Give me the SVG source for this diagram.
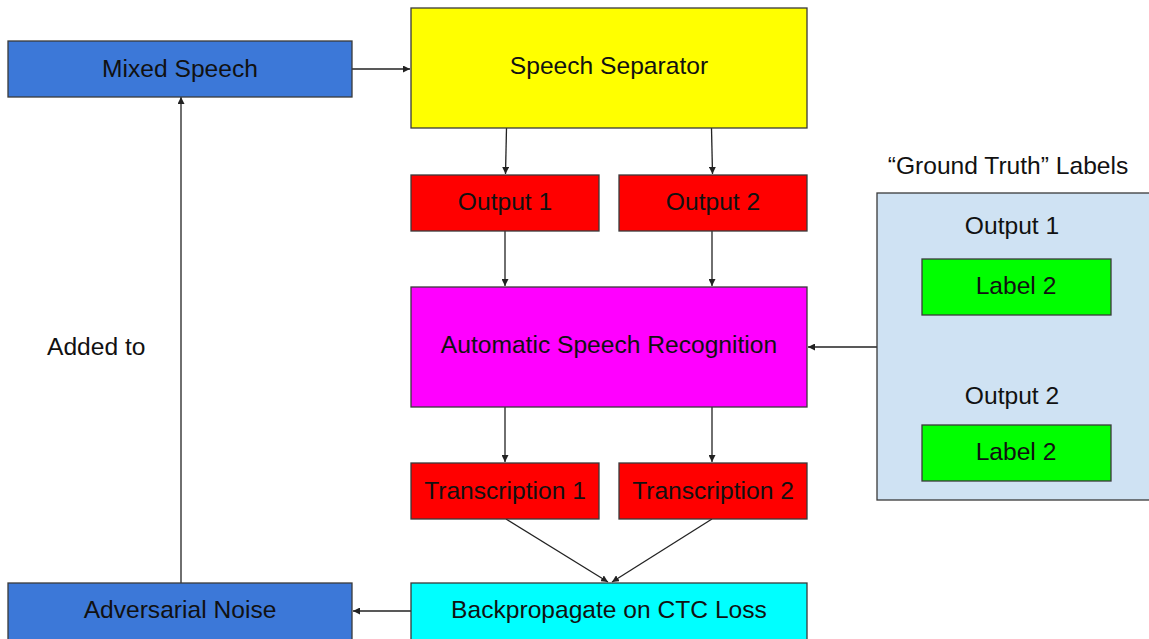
<svg xmlns="http://www.w3.org/2000/svg" width="1149" height="639" viewBox="0 0 1149 639">
  <style>
    .box { stroke: #3a3a3a; stroke-width: 1.3; }
    .lbl { font-family: "Liberation Sans", Arial, sans-serif; font-size: 24.6px; fill: #111; text-anchor: middle; dominant-baseline: central; }
    .plain { font-family: "Liberation Sans", Arial, sans-serif; font-size: 24.6px; fill: #111; dominant-baseline: central; }
    .conn { stroke: #222; stroke-width: 1.3; fill: none; marker-end: url(#arrow); }
  </style>
  <defs>
    <marker id="arrow" viewBox="0 0 10 10" refX="10" refY="5" markerWidth="7" markerHeight="7" markerUnits="userSpaceOnUse" orient="auto">
      <path d="M0,0 L10,5 L0,10 z" fill="#222"/>
    </marker>
  </defs>
  <rect width="1149" height="639" fill="#ffffff"/>

  <g id="connectors">
    <line class="conn" x1="352" y1="69" x2="410" y2="69"/>
    <line class="conn" x1="506.5" y1="128" x2="505.5" y2="174"/>
    <line class="conn" x1="711.5" y1="128" x2="712.5" y2="174"/>
    <line class="conn" x1="505" y1="231" x2="505" y2="286"/>
    <line class="conn" x1="712" y1="231" x2="712" y2="286"/>
    <line class="conn" x1="505" y1="407" x2="505" y2="462"/>
    <line class="conn" x1="712" y1="407" x2="712" y2="462"/>
    <line class="conn" x1="506" y1="519" x2="608" y2="582"/>
    <line class="conn" x1="712" y1="519" x2="612" y2="582"/>
    <line class="conn" x1="411" y1="611" x2="353" y2="611"/>
    <line class="conn" x1="181" y1="583" x2="181" y2="97"/>
    <line class="conn" x1="877" y1="347" x2="808" y2="347"/>
  </g>

  <g id="mixed-speech">
    <rect class="box" x="8" y="41" width="344" height="56" fill="#3c78d8"/>
    <text class="lbl" x="180" y="68">Mixed Speech</text>
  </g>
  <g id="speech-separator">
    <rect class="box" x="411" y="8" width="396" height="120" fill="#ffff00"/>
    <text class="lbl" x="609" y="65">Speech Separator</text>
  </g>
  <g id="output-1">
    <rect class="box" x="411" y="175" width="188" height="56" fill="#ff0000"/>
    <text class="lbl" x="505" y="201">Output 1</text>
  </g>
  <g id="output-2">
    <rect class="box" x="619" y="175" width="188" height="56" fill="#ff0000"/>
    <text class="lbl" x="713" y="201">Output 2</text>
  </g>
  <g id="asr">
    <rect class="box" x="411" y="287" width="396" height="120" fill="#ff00ff"/>
    <text class="lbl" x="609" y="344">Automatic Speech Recognition</text>
  </g>
  <g id="transcription-1">
    <rect class="box" x="411" y="463" width="188" height="56" fill="#ff0000"/>
    <text class="lbl" x="505" y="490">Transcription 1</text>
  </g>
  <g id="transcription-2">
    <rect class="box" x="619" y="463" width="188" height="56" fill="#ff0000"/>
    <text class="lbl" x="713" y="490">Transcription 2</text>
  </g>
  <g id="backpropagate">
    <rect class="box" x="411" y="583" width="396" height="60" fill="#00ffff"/>
    <text class="lbl" x="609" y="609">Backpropagate on CTC Loss</text>
  </g>
  <g id="adversarial-noise">
    <rect class="box" x="8" y="583" width="344" height="60" fill="#3c78d8"/>
    <text class="lbl" x="180" y="609">Adversarial Noise</text>
  </g>
  <g id="added-to">
    <text class="plain" x="47" y="346">Added to</text>
  </g>

  <g id="ground-truth">
    <text class="lbl" x="1008" y="165">“Ground Truth” Labels</text>
    <rect class="box" x="877" y="193" width="280" height="307" fill="#cfe2f3"/>
    <text class="lbl" x="1012" y="225">Output 1</text>
    <text class="lbl" x="1012" y="395">Output 2</text>
  </g>
  <g id="label-a">
    <rect class="box" x="922" y="259" width="189" height="56" fill="#00ff00"/>
    <text class="lbl" x="1016" y="285">Label 2</text>
  </g>
  <g id="label-b">
    <rect class="box" x="922" y="425" width="189" height="56" fill="#00ff00"/>
    <text class="lbl" x="1016" y="451">Label 2</text>
  </g>
</svg>
